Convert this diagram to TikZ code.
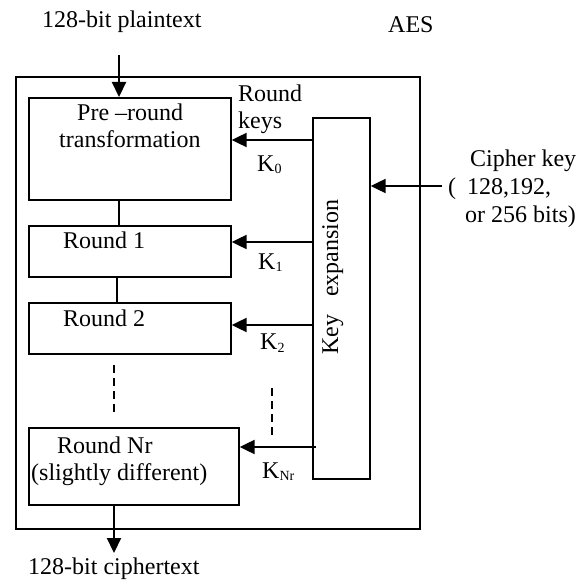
\documentclass[tikz,border=0pt]{standalone}
\usepackage{fontspec}
\setmainfont{Liberation Serif}
\usetikzlibrary{arrows.meta}
\newcommand\ksub[1]{\raisebox{-2pt}{\fontsize{14}{14}\selectfont #1}}
\begin{document}
\begin{tikzpicture}[x=1pt,y=-1pt,
  box/.style={draw, line width=1.7pt, inner sep=0pt, anchor=north west},
  txt/.style={inner sep=0pt, anchor=base west, font=\fontsize{24}{28}\selectfont},
  arr/.style={line width=2.2pt, -{Triangle[length=15pt,width=14pt]}},
  conn/.style={line width=1.7pt},
  dsh/.style={line width=1.6pt, dash pattern=on 8pt off 5pt}]
\useasboundingbox (0,0) rectangle (587,580);
% boxes
\node[box, minimum width=404pt, minimum height=452pt] (outer) at (15,76) {};
\node[box, minimum width=202pt, minimum height=102pt] (pre) at (28,97) {};
\node[box, minimum width=202pt, minimum height=51pt] (r1) at (28,225) {};
\node[box, minimum width=202pt, minimum height=51pt] (r2) at (28,302) {};
\node[box, minimum width=210pt, minimum height=77pt] (rn) at (28,427) {};
\node[box, minimum width=57pt, minimum height=361pt] (kexp) at (312,117) {};
% texts
\node[txt] (plain) at (42,28) {128-bit plaintext};
\node[txt] (aes) at (388,33) {AES};
\node[txt] (pre1) at (77,121) {Pre –round};
\node[txt] (pre2) at (59,148) {transformation};
\node[txt] (rk1) at (238,102) {Round};
\node[txt] (rk2) at (238,129) {keys};
\node[txt] (k0) at (257,172) {K\ksub{0}};
\node[txt] (r1t) at (63,249) {Round 1};
\node[txt] (k1) at (258,270) {K\ksub{1}};
\node[txt] (r2t) at (63,327) {Round 2};
\node[txt] (k2) at (260,350) {K\ksub{2}};
\node[txt] (rnt1) at (57,453) {Round Nr};
\node[txt] (rnt2) at (31,480) {(slightly different)};
\node[txt] (kn) at (262,478) {K\ksub{Nr}};
\node[txt] (ciph) at (28,574) {128-bit ciphertext};
\node[txt] (ck1) at (470,167) {Cipher key};
\node[txt] (ck2) at (448,195) {(\hspace{11pt}128,192,};
\node[txt] (ck3) at (465,223) {or 256 bits)};
\node[txt, rotate=90] (kxt) at (338,355) {Key\hspace{18pt}expansion};
% connectors
\coordinate (pin) at (119,55);
\draw[arr] (pin) -- (pin |- pre.north);
\coordinate (c1) at (119,0);
\draw[conn] (c1 |- pre.south) -- (c1 |- r1.north);
\coordinate (c2) at (117,0);
\draw[conn] (c2 |- r1.south) -- (c2 |- r2.north);
\coordinate (d1a) at (114,365);
\coordinate (d1b) at (114,413);
\draw[dsh] (d1a) -- (d1b);
\coordinate (c3) at (114,553);
\draw[arr] (c3 |- rn.south) -- (c3);
\coordinate (ckin) at (442,186);
\draw[arr] (ckin) -- (ckin -| kexp.east);
\coordinate (y0) at (0,140);
\draw[arr] (y0 -| kexp.west) -- (y0 -| pre.east);
\coordinate (y1) at (0,242);
\draw[arr] (y1 -| kexp.west) -- (y1 -| r1.east);
\coordinate (y2) at (0,325);
\draw[arr] (y2 -| kexp.west) -- (y2 -| r2.east);
\coordinate (yn) at (316,447);
\draw[arr] (yn) -- (yn -| rn.east);
\coordinate (d2a) at (272,388);
\coordinate (d2b) at (272,437);
\draw[dsh] (d2a) -- (d2b);
\end{tikzpicture}
\end{document}
